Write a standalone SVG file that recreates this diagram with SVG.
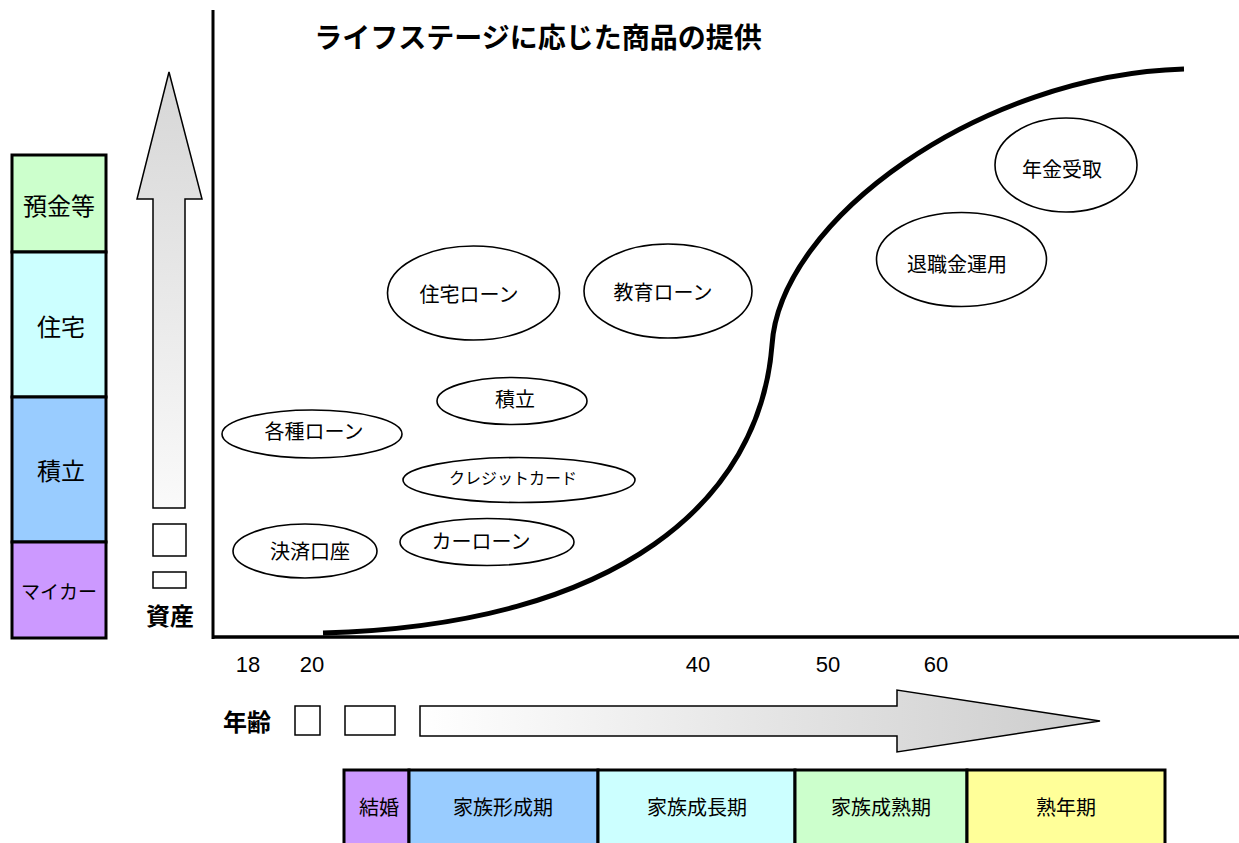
<svg xmlns="http://www.w3.org/2000/svg" width="1239" height="843" viewBox="0 0 1239 843">
<style>
text{font-family:"Noto Sans CJK JP","Liberation Sans",sans-serif;fill:#000;text-anchor:middle;dominant-baseline:central}
.cell{stroke:#000;stroke-width:3}
.ell{fill:#fff;stroke:#000;stroke-width:1.6}
.lbl{font-size:20px}
.bold{font-weight:bold}
.num{font-family:"Liberation Sans",sans-serif;font-size:22px}
.box{fill:#fff;stroke:#000;stroke-width:1.5}
</style>
<defs>
<linearGradient id="gv" x1="0" y1="0" x2="0" y2="1">
<stop offset="0" stop-color="#d6d6d6"/><stop offset="1" stop-color="#fafafa"/>
</linearGradient>
<linearGradient id="gh" x1="0" y1="0" x2="1" y2="0">
<stop offset="0" stop-color="#ffffff"/><stop offset="1" stop-color="#cccccc"/>
</linearGradient>
</defs>
<rect width="1239" height="843" fill="#fff"/>

<g id="asset-column">
<rect class="cell" x="12" y="155" width="94" height="97" fill="#CCFFCC"/>
<rect class="cell" x="12" y="252" width="94" height="145" fill="#CCFFFF"/>
<rect class="cell" x="12" y="397" width="94" height="145" fill="#99CCFF"/>
<rect class="cell" x="12" y="542" width="94" height="96" fill="#CC99FF"/>
<text x="59" y="204" style="font-size:24px">預金等</text>
<text x="61" y="325" style="font-size:24px">住宅</text>
<text x="61" y="469" style="font-size:24px">積立</text>
<text x="59" y="590" style="font-size:19px">マイカー</text>
</g>

<g id="asset-arrow">
<path d="M153,508 L153,199 L137,199 L169,72 L202,199 L185,199 L185,508 Z" fill="url(#gv)" stroke="#000" stroke-width="1.5"/>
<rect class="box" x="153" y="524" width="33" height="32"/>
<rect class="box" x="153" y="572" width="33" height="16"/>
<text class="bold" x="170" y="614" style="font-size:24px">資産</text>
</g>

<g id="axes" stroke="#000" fill="none">
<line x1="213" y1="10" x2="213" y2="639" stroke-width="3"/>
<line x1="212" y1="637" x2="1239" y2="637" stroke-width="3.5"/>
</g>

<g id="title">
<text class="bold" x="538" y="36" style="font-size:28px">ライフステージに応じた商品の提供</text>
</g>

<g id="connectors">
<path d="M323,633 C620,625 760,500 772,345 C780,220 980,75 1184,69" fill="none" stroke="#000" stroke-width="5"/>
</g>

<g id="node-nenkin"><ellipse class="ell" cx="1066" cy="165" rx="71" ry="47"/><text class="lbl" x="1062" y="168">年金受取</text></g>
<g id="node-taishokukin"><ellipse class="ell" cx="961.5" cy="259.5" rx="85" ry="47"/><text class="lbl" x="957" y="263">退職金運用</text></g>
<g id="node-jutaku-loan"><ellipse class="ell" cx="473.5" cy="293" rx="86" ry="47"/><text class="lbl" x="469" y="293">住宅ローン</text></g>
<g id="node-kyoiku-loan"><ellipse class="ell" cx="668" cy="291" rx="84" ry="47"/><text class="lbl" x="663" y="291">教育ローン</text></g>
<g id="node-tsumitate"><ellipse class="ell" cx="512" cy="401" rx="75" ry="23.5"/><text class="lbl" x="515" y="398">積立</text></g>
<g id="node-kakushu-loan"><ellipse class="ell" cx="312" cy="434" rx="90" ry="24"/><text class="lbl" x="314" y="430">各種ローン</text></g>
<g id="node-credit"><ellipse class="ell" cx="519" cy="480" rx="116" ry="22.5"/><text x="513" y="477" style="font-size:16px">クレジットカード</text></g>
<g id="node-kessai"><ellipse class="ell" cx="305" cy="551" rx="72" ry="27"/><text class="lbl" x="310" y="550">決済口座</text></g>
<g id="node-car-loan"><ellipse class="ell" cx="487" cy="542" rx="87" ry="23.5"/><text class="lbl" x="481" y="540">カーローン</text></g>

<g id="age-labels">
<text class="num" x="248" y="664">18</text>
<text class="num" x="312" y="664">20</text>
<text class="num" x="698" y="664">40</text>
<text class="num" x="828" y="664">50</text>
<text class="num" x="936" y="664">60</text>
</g>

<g id="age-arrow">
<text class="bold" x="247" y="720" style="font-size:24px">年齢</text>
<rect class="box" x="295" y="706" width="25" height="29"/>
<rect class="box" x="345" y="706" width="50" height="29"/>
<path d="M420,706 L897,706 L897,690 L1100,721 L897,752 L897,736 L420,736 Z" fill="url(#gh)" stroke="#000" stroke-width="1.5"/>
</g>

<g id="stage-bar">
<rect class="cell" x="344" y="770" width="65" height="80" fill="#CC99FF"/>
<rect class="cell" x="409" y="770" width="189" height="80" fill="#99CCFF"/>
<rect class="cell" x="598" y="770" width="197" height="80" fill="#CCFFFF"/>
<rect class="cell" x="795" y="770" width="172" height="80" fill="#CCFFCC"/>
<rect class="cell" x="967" y="770" width="198" height="80" fill="#FFFF99"/>
<text class="lbl" x="379" y="806">結婚</text>
<text class="lbl" x="503" y="806">家族形成期</text>
<text class="lbl" x="697" y="806">家族成長期</text>
<text class="lbl" x="881" y="806">家族成熟期</text>
<text class="lbl" x="1066" y="806">熟年期</text>
</g>
</svg>
